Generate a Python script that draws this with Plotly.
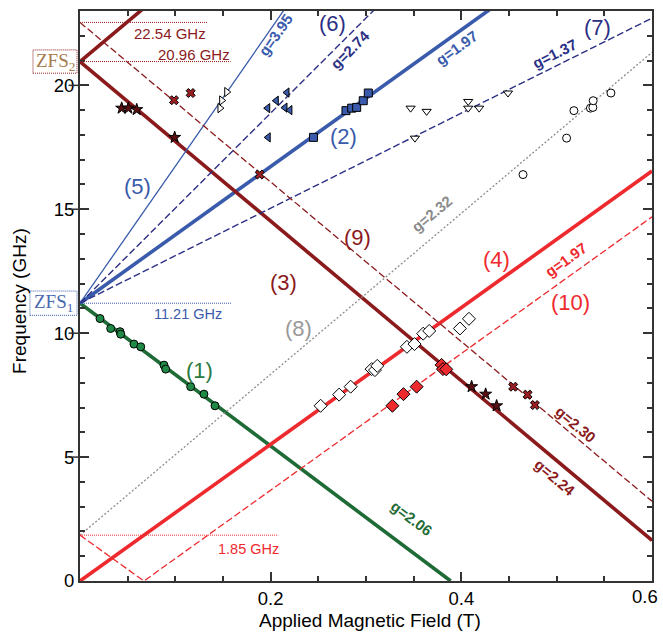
import plotly.graph_objects as go

# ---------------- data ----------------
ZFS1 = 11.21
ZFS2 = 20.96
F_2254 = 22.54
F_185 = 1.85

# line definitions: intercept (GHz), slope (GHz/T)
line_names = ["(1)", "(2)", "(3)", "(3u)", "(4)", "(5)", "(6)", "(7)", "(8)", "(9)", "(10)"]
line_f0 = [ZFS1, ZFS1, ZFS2, ZFS2, 0.0, ZFS1, ZFS1, ZFS1, F_185, F_2254, F_185]
line_slope = [-28.83, 27.57, -32.2, 32.2, 27.57, 55.28, 38.35, 19.17, 32.47, -32.2, -27.57]

green_B = [0.0210, 0.0322, 0.0420, 0.0427, 0.0566, 0.0637, 0.0881, 0.0899, 0.1161, 0.1300, 0.1416]
green_f = [10.59, 10.19, 10.06, 9.96, 9.56, 9.45, 8.71, 8.55, 7.84, 7.54, 7.07]
star_B = [0.0437, 0.0507, 0.0595, 0.0993, 0.4108, 0.4255, 0.4370]
star_f = [19.08, 19.08, 19.02, 17.90, 7.84, 7.54, 7.07]
xm_B = [0.0986, 0.1161, 0.1885, 0.4544, 0.4695, 0.4772]
xm_f = [19.40, 19.69, 16.40, 7.84, 7.52, 7.10]
ltri_B = [0.2171, 0.2059, 0.1969, 0.2150, 0.2202, 0.1974]
ltri_f = [19.71, 19.38, 19.08, 19.10, 19.00, 17.90]
sq_B = [0.2449, 0.2790, 0.2850, 0.2902, 0.2971, 0.3024]
sq_f = [17.90, 18.98, 19.08, 19.11, 19.38, 19.69]
dtri_B = [0.3468, 0.3636, 0.3513, 0.4072, 0.4072, 0.4187, 0.4489]
dtri_f = [19.08, 18.95, 17.87, 19.35, 19.08, 19.08, 19.69]
circ_B = [0.4647, 0.5104, 0.5181, 0.5354, 0.5380, 0.5383, 0.5569]
circ_f = [16.40, 17.87, 18.98, 19.08, 19.11, 19.38, 19.69]
wdia_B = [0.2524, 0.2718, 0.2839, 0.3059, 0.3094, 0.3118, 0.3429, 0.3509, 0.3600, 0.3663, 0.3985, 0.4080]
wdia_f = [7.07, 7.52, 7.84, 8.55, 8.51, 8.68, 9.45, 9.56, 9.98, 10.09, 10.19, 10.58]
rdia_B = [0.3277, 0.3393, 0.3531, 0.3793, 0.3807, 0.3842]
rdia_f = [7.07, 7.54, 7.84, 8.72, 8.55, 8.54]
rtri_B = [0.1539, 0.1486, 0.1468]
rtri_f = [19.73, 19.39, 19.08]

x_ticks = [0.2, 0.4]
x_last_tick = "0.6"
y_ticks = [0, 5, 10, 15, 20]

# ---------------- styles ----------------
GREEN = "#1f6b36"
BLUE = "#3a5bab"
NAVY = "#2b2f85"
DRED = "#8b1a1c"
RED = "#ee2a2e"
GRAY = "#8c8c8c"

line_style = {
    "(1)": dict(color=GREEN, width=3.6),
    "(2)": dict(color=BLUE, width=3.6),
    "(3)": dict(color=DRED, width=3.6),
    "(3u)": dict(color=DRED, width=3.6),
    "(4)": dict(color=RED, width=3.6),
    "(5)": dict(color=BLUE, width=1.3),
    "(6)": dict(color=NAVY, width=1.4, dash="7px,3px"),
    "(7)": dict(color=NAVY, width=1.4, dash="7px,3px"),
    "(8)": dict(color=GRAY, width=1.3, dash="2px,2px"),
    "(9)": dict(color=DRED, width=1.3, dash="7px,3px"),
    "(10)": dict(color=RED, width=1.3, dash="7px,3px"),
}

XMAX = 0.6
fig = go.Figure()

for name, f0, s in zip(line_names, line_f0, line_slope):
    if name == "(10)":
        Bv = -f0 / s
        xs = [0, Bv, XMAX]
        ys = [abs(f0 + s * b) for b in xs]
    elif name == "(1)":
        Bz = -f0 / s
        xs = [0, Bz]
        ys = [f0 + s * b for b in xs]
    else:
        xs = [0, XMAX]
        ys = [f0 + s * b for b in xs]
    fig.add_trace(go.Scatter(x=xs, y=ys, mode="lines", line=line_style[name],
                             hoverinfo="skip", showlegend=False))

def mk(B, f, symbol, fill, size):
    fig.add_trace(go.Scatter(x=B, y=f, mode="markers", showlegend=False,
                             marker=dict(symbol=symbol, color=fill, size=size,
                                         line=dict(color="black", width=1))))

mk(green_B, green_f, "circle", "#1f8a45", 8)
mk(star_B, star_f, "star", "#5a1012", 9)
mk(xm_B, xm_f, "x", "#9b1f22", 8)
mk(ltri_B, ltri_f, "triangle-left", BLUE, 8)
mk(sq_B, sq_f, "square", BLUE, 8)
mk(dtri_B, dtri_f, "triangle-down", "white", 8)
mk(circ_B, circ_f, "circle", "white", 8)
mk(wdia_B, wdia_f, "diamond", "white", 10)
mk(rdia_B, rdia_f, "diamond", RED, 10)
mk(rtri_B, rtri_f, "triangle-right", "white", 8)

# ---------------- reference lines & boxes ----------------
shapes = [
    dict(type="line", xref="x", yref="y", x0=0, x1=0.134, y0=F_2254, y1=F_2254,
         line=dict(color=DRED, width=1, dash="1px,1px")),
    dict(type="line", xref="x", yref="y", x0=0, x1=0.158, y0=ZFS2, y1=ZFS2,
         line=dict(color=DRED, width=1, dash="1px,1px")),
    dict(type="line", xref="x", yref="y", x0=0, x1=0.159, y0=ZFS1, y1=ZFS1,
         line=dict(color=BLUE, width=1, dash="1px,1px")),
    dict(type="line", xref="x", yref="y", x0=0, x1=0.208, y0=F_185, y1=F_185,
         line=dict(color=RED, width=1, dash="1px,1px")),
    dict(type="rect", xref="paper", yref="y", x0=-0.0822, x1=-0.0052,
         y0=ZFS2 - 0.47, y1=ZFS2 + 0.47, line=dict(color=DRED, width=1, dash="1px,1px")),
    dict(type="rect", xref="paper", yref="y", x0=-0.0875, x1=-0.0052,
         y0=ZFS1 - 0.49, y1=ZFS1 + 0.49, line=dict(color=BLUE, width=1, dash="1px,1px")),
]
for yt in y_ticks[1:]:
    shapes.append(dict(type="line", xref="paper", yref="y", x0=-0.02, x1=0, y0=yt, y1=yt,
                       line=dict(color="#333", width=1.5)))

SANS = "Liberation Sans, Arial, sans-serif"
SERIF = "Liberation Serif, DejaVu Serif, serif"

def ann(text, x, y, color, size=22, angle=0, bold=False, font=SANS, xref="x", yref="y"):
    return dict(text=("<b>%s</b>" % text) if bold else text, x=x, y=y, xref=xref, yref=yref,
                showarrow=False, textangle=angle, font=dict(family=font, size=size, color=color),
                xanchor="center", yanchor="middle")

GS = 15
annotations = [
    ann("(1)", 0.1258, 8.48, "#2a7a3f"),
    ann("(2)", 0.2769, 17.94, BLUE),
    ann("(3)", 0.2139, 12.06, DRED),
    ann("(4)", 0.4373, 12.99, RED),
    ann("(5)", 0.0598, 15.93, BLUE),
    ann("(6)", 0.2653, 22.49, NAVY),
    ann("(7)", 0.5433, 22.33, NAVY),
    ann("(8)", 0.2297, 10.17, "#999999"),
    ann("(9)", 0.2916, 13.88, DRED),
    ann("(10)", 0.5149, 11.22, RED),
    ann("g=3.95", 0.2055, 22.04, BLUE, GS, -55, True),
    ann("g=2.74", 0.2832, 21.45, NAVY, GS, -45, True),
    ann("g=1.97", 0.3954, 21.53, BLUE, GS, -35.7, True),
    ann("g=1.37", 0.4982, 21.29, NAVY, GS, -26.5, True),
    ann("g=2.32", 0.3692, 14.84, GRAY, GS, -40, True),
    ann("g=1.97", 0.5097, 12.99, RED, GS, -35.7, True),
    ann("g=2.30", 0.5202, 6.31, DRED, GS, 40, True),
    ann("g=2.24", 0.4982, 4.17, DRED, GS, 40, True),
    ann("g=2.06", 0.3482, 2.52, GREEN, GS, 37, True),
    ann("22.54 GHz", 0.0939, 22.09, DRED, 15),
    ann("20.96 GHz", 0.1196, 21.26, DRED, 15),
    ann("11.21 GHz", 0.113, 10.78, BLUE, 14.5),
    ann("1.85 GHz", 0.1767, 1.31, RED, 14.5),
    ann("ZFS<sub>2</sub>", -0.0437, ZFS2, "#a67a4c", 19, font=SERIF, xref="paper"),
    ann("ZFS<sub>1</sub>", -0.0463, ZFS1, "#4a69b0", 19, font=SERIF, xref="paper"),
    ann("Applied Magnetic Field (T)", 0.507, -0.07, "black", 19, xref="paper", yref="paper"),
    ann("Frequency (GHz)", -0.107, 0.491, "black", 19, angle=-90, xref="paper", yref="paper"),
    # right-most x tick label, shifted inside the page as in the reference
    ann(x_last_tick, 0.988, -0.028, "black", 18.5, xref="paper", yref="paper"),
]

axis_common = dict(showline=True, linecolor="#333333", linewidth=2, mirror="allticks",
                   ticks="inside", ticklen=9, tickwidth=1.5, tickcolor="#333333",
                   showgrid=False, zeroline=False,
                   tickfont=dict(family=SANS, size=18.5, color="black"))

fig.update_layout(
    width=663, height=634,
    margin=dict(l=80, r=11, t=9, b=53),
    paper_bgcolor="white", plot_bgcolor="white",
    showlegend=False,
    xaxis=dict(range=[0, XMAX], tickmode="array", tickvals=x_ticks,
               ticktext=[str(v) for v in x_ticks],
               minor=dict(tickmode="array", tickvals=[i * 0.05 for i in range(1, 12)],
                          ticks="inside", ticklen=5, tickcolor="#333333"),
               **axis_common),
    yaxis=dict(range=[0, 23], tickmode="array", tickvals=y_ticks,
               ticktext=[str(v) for v in y_ticks],
               minor=dict(tickmode="array", tickvals=list(range(1, 23)),
                          ticks="inside", ticklen=5, tickcolor="#333333"),
               **axis_common),
    shapes=shapes,
    annotations=annotations,
)

fig.write_html("out.html")
